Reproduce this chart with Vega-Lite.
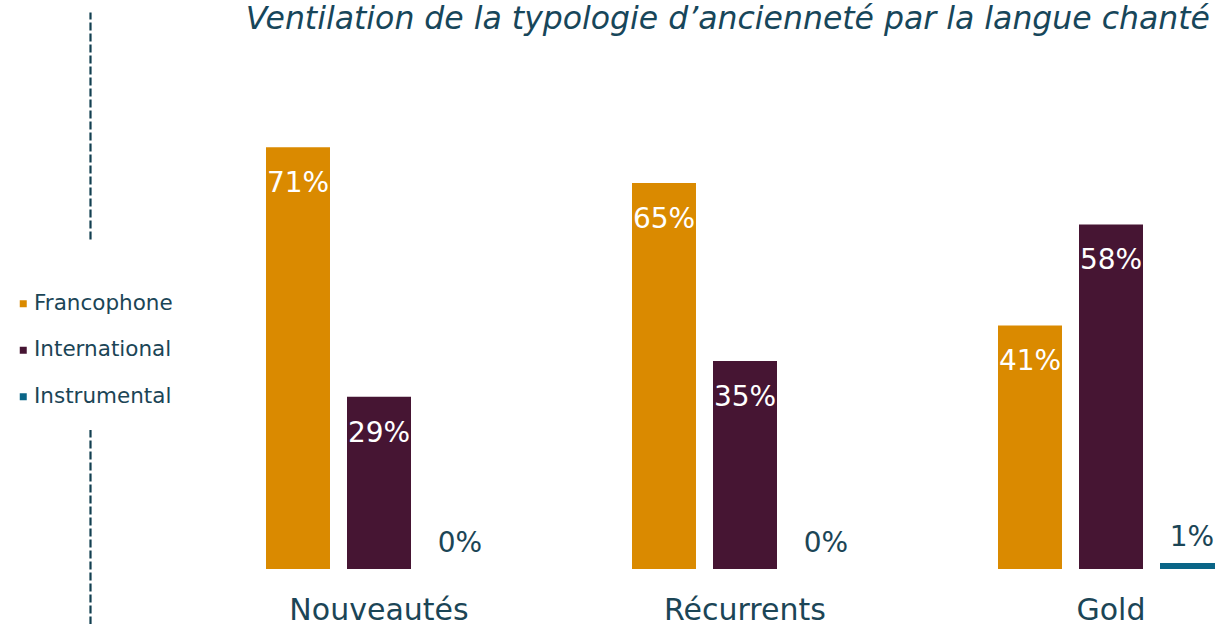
{
  "$schema": "https://vega.github.io/schema/vega-lite/v6.json",
  "width": 1125,
  "height": 612,
  "autosize": {"type": "none"},
  "padding": {"left": 90, "top": 12, "right": 0, "bottom": 0},
  "background": "white",
  "title": {
    "text": "Ventilation de la typologie d’ancienneté par la langue chanté",
    "anchor": "end",
    "frame": "group",
    "font": "DejaVu Sans",
    "fontStyle": "italic",
    "fontWeight": "normal",
    "fontSize": 31.5,
    "color": "#17465a",
    "baseline": "alphabetic",
    "offset": -48,
    "dx": -5
  },
  "config": {"view": {"stroke": null}, "font": "DejaVu Sans"},
  "data": {
    "values": [
      {"type": "Nouveautés", "langue": "Francophone", "part": 0.71},
      {"type": "Nouveautés", "langue": "International", "part": 0.29},
      {"type": "Nouveautés", "langue": "Instrumental", "part": 0.0},
      {"type": "Récurrents", "langue": "Francophone", "part": 0.65},
      {"type": "Récurrents", "langue": "International", "part": 0.35},
      {"type": "Récurrents", "langue": "Instrumental", "part": 0.0},
      {"type": "Gold", "langue": "Francophone", "part": 0.41},
      {"type": "Gold", "langue": "International", "part": 0.58},
      {"type": "Gold", "langue": "Instrumental", "part": 0.01}
    ]
  },
  "encoding": {
    "x": {
      "field": "type",
      "type": "nominal",
      "sort": ["Nouveautés", "Récurrents", "Gold"],
      "scale": {"range": [0, 1310], "paddingInner": 0.3825, "paddingOuter": 0.48087},
      "axis": {
        "title": null,
        "orient": "bottom",
        "offset": -55,
        "domain": false,
        "ticks": false,
        "grid": false,
        "labelFontSize": 30,
        "labelColor": "#1b4556",
        "labelFont": "DejaVu Sans",
        "labelPadding": 26,
        "labelAngle": 0,
        "zindex": 1
      }
    },
    "xOffset": {
      "field": "langue",
      "type": "nominal",
      "sort": ["Francophone", "International", "Instrumental"],
      "scale": {"paddingInner": 0.21, "paddingOuter": 0}
    },
    "y": {
      "field": "part",
      "type": "quantitative",
      "scale": {"domain": [-0.0926, 0.9377], "nice": false, "zero": false},
      "axis": {
        "title": null,
        "labels": false,
        "ticks": false,
        "grid": false,
        "domain": true,
        "domainDash": [8, 3],
        "domainColor": "#123f50",
        "domainWidth": 2.2,
        "zindex": 0
      }
    }
  },
  "layer": [
    {
      "mark": {"type": "bar", "clip": true},
      "encoding": {
        "y2": {"datum": 0},
        "color": {
          "field": "langue",
          "type": "nominal",
          "scale": {
            "domain": ["Francophone", "International", "Instrumental"],
            "range": ["#DA8A00", "#461533", "#0A6587"]
          },
          "legend": {
            "orient": "none",
            "legendX": -99.5,
            "legendY": 228,
            "title": " ",
            "titleFontSize": 16,
            "titlePadding": 15,
            "padding": 22,
            "fillColor": "white",
            "symbolType": "square",
            "symbolSize": 49,
            "symbolStrokeWidth": 0,
            "labelFontSize": 21.5,
            "labelColor": "#1b4556",
            "labelFont": "DejaVu Sans",
            "labelOffset": 0,
            "rowPadding": 23.5,
            "zindex": 2
          }
        }
      }
    },
    {
      "transform": [{"filter": "datum.part >= 0.05"}],
      "mark": {"type": "text", "dy": 45, "color": "white", "fontSize": 28, "baseline": "alphabetic", "align": "center", "font": "DejaVu Sans"},
      "encoding": {"text": {"field": "part", "type": "quantitative", "format": ".0%"}}
    },
    {
      "transform": [{"filter": "datum.part < 0.05"}],
      "mark": {"type": "text", "dy": -17, "color": "#1b4556", "fontSize": 28, "baseline": "alphabetic", "align": "center", "font": "DejaVu Sans"},
      "encoding": {"text": {"field": "part", "type": "quantitative", "format": ".0%"}}
    }
  ]
}
